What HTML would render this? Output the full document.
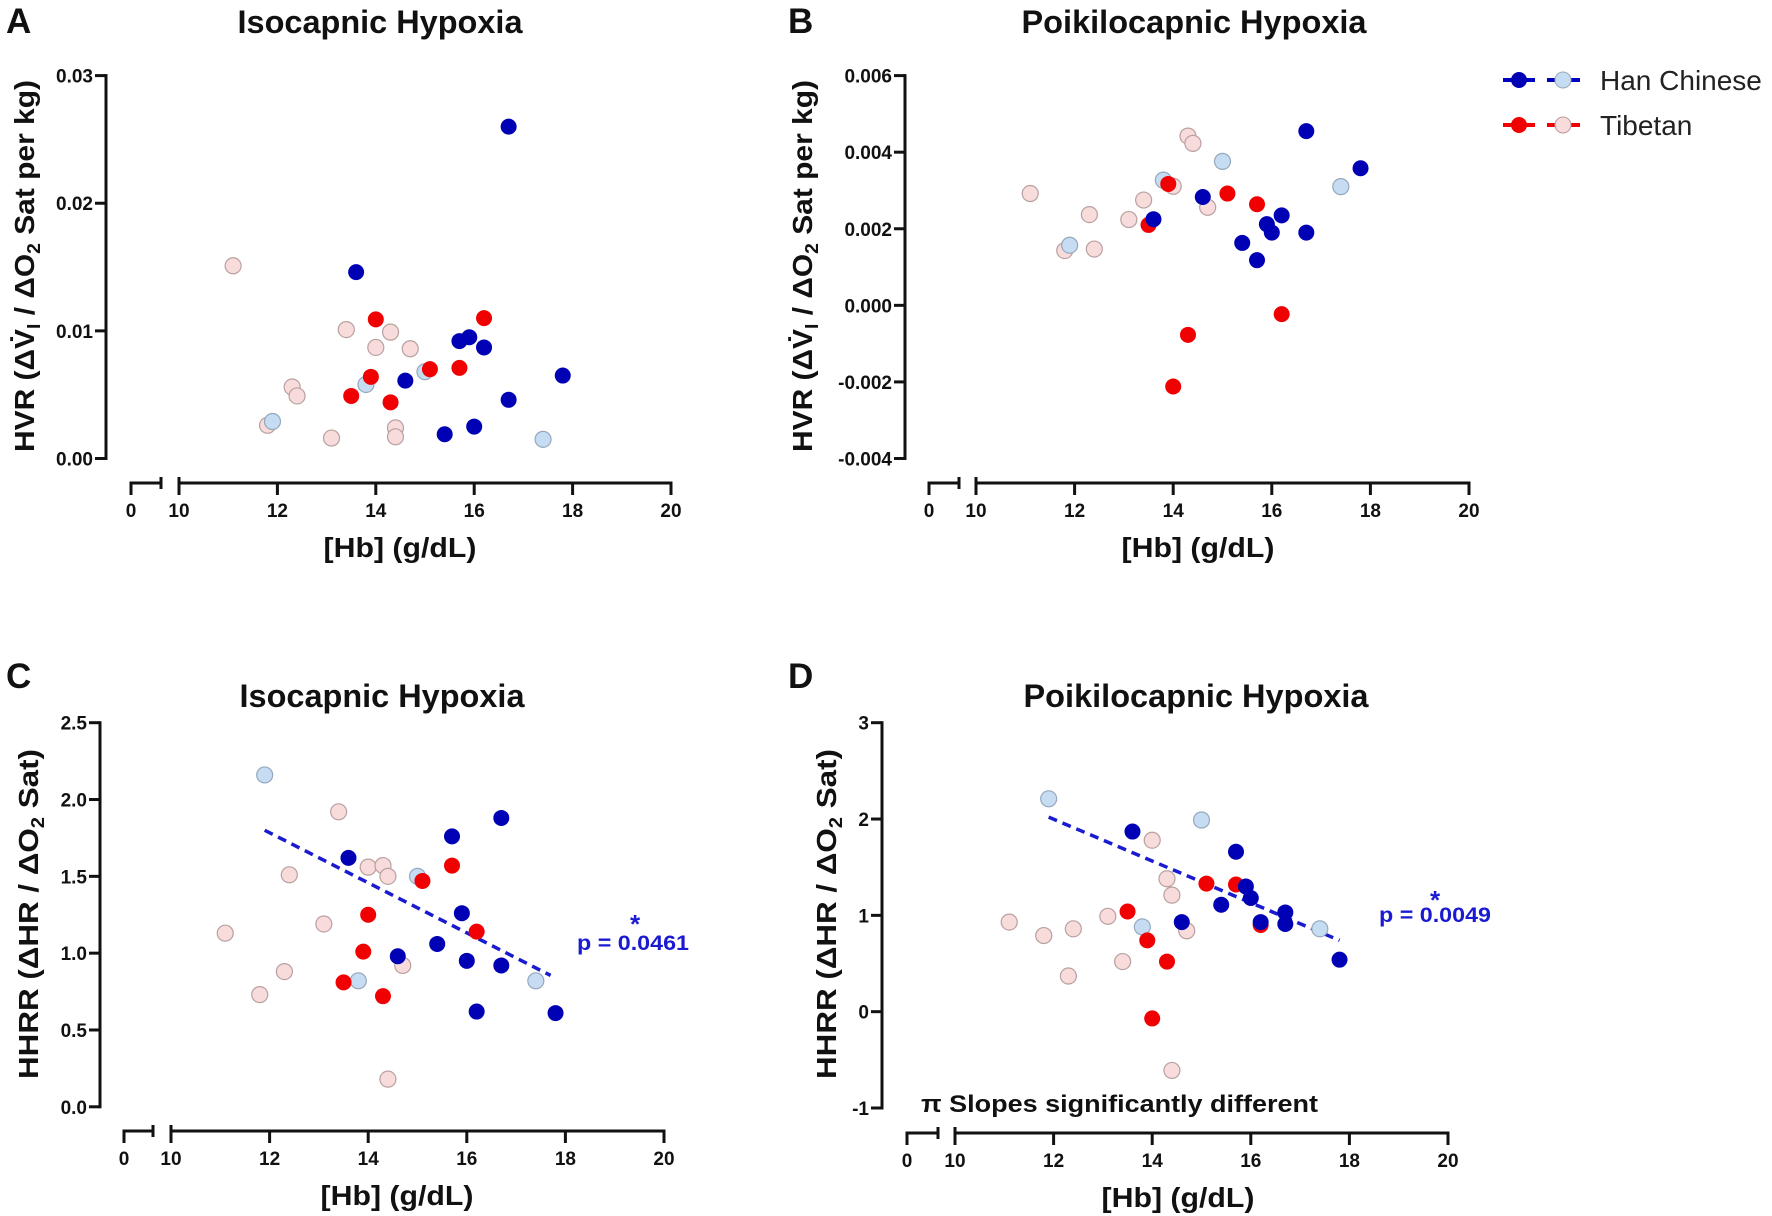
<!DOCTYPE html>
<html><head><meta charset="utf-8"><style>
html,body{margin:0;padding:0;background:#fff;}
svg{display:block;font-family:"Liberation Sans",Arial,sans-serif;}
.tk{font-family:"Liberation Sans Narrow","Liberation Sans",sans-serif;font-weight:bold;font-size:19px;fill:#111;}
.ttl{font-family:"Liberation Sans Narrow","Liberation Sans",sans-serif;font-weight:bold;font-size:32px;fill:#111;}
.ax{font-weight:bold;font-size:28px;fill:#111;}
.let{font-weight:bold;font-size:35px;fill:#111;}
</style></head><body>
<svg id="fig" width="1772" height="1216" viewBox="0 0 1772 1216">
<g>
<text class="let" x="6" y="33">A</text>
<text class="let" x="788" y="33">B</text>
<text class="let" x="6" y="688">C</text>
<text class="let" x="788" y="688">D</text>
</g>
<g>
<g>
<line x1="1503" y1="80" x2="1535" y2="80" stroke="#0000c0" stroke-width="4"/>
<line x1="1547" y1="80" x2="1580" y2="80" stroke="#0000c0" stroke-width="4"/>
<circle cx="1519" cy="80" r="8" fill="#0000b4"/>
<circle cx="1563" cy="80" r="8" fill="#c6dcf2" stroke="#9ab" stroke-width="1"/>
<text x="1600" y="90" font-size="28" fill="#222">Han Chinese</text>
</g>
<g>
<line x1="1503" y1="125" x2="1535" y2="125" stroke="#f00000" stroke-width="4"/>
<line x1="1547" y1="125" x2="1580" y2="125" stroke="#f00000" stroke-width="4"/>
<circle cx="1519" cy="125" r="8" fill="#f00000"/>
<circle cx="1563" cy="125" r="8" fill="#f8dcdc" stroke="#b99" stroke-width="1"/>
<text x="1600" y="135" font-size="28" fill="#222">Tibetan</text>
</g>
</g>
<text class="tk" x="921" y="1112" style="font-size:24px" textLength="397" lengthAdjust="spacingAndGlyphs">π Slopes significantly different</text>
</svg>
<script>
// Panel A data (HVR isocapnic)
const aHanDarkX=[16.7,13.6,15.7,15.9,16.2,14.6,17.8,16.7,15.4,16.0];
const aHanDarkY=[0.026,0.0146,0.0092,0.0095,0.0087,0.0061,0.0065,0.0046,0.0019,0.0025];
const aHanLightX=[11.9,13.8,15.0,17.4];
const aHanLightY=[0.0029,0.0058,0.0068,0.0015];
const aTibDarkX=[14.0,16.2,13.9,15.1,15.7,13.5,14.3];
const aTibDarkY=[0.0109,0.011,0.0064,0.007,0.0071,0.0049,0.0044];
const aTibLightX=[11.1,13.4,14.3,14.0,14.7,12.3,12.4,11.8,13.1,14.4,14.4];
const aTibLightY=[0.0151,0.0101,0.0099,0.0087,0.0086,0.0056,0.0049,0.0026,0.0016,0.0024,0.0017];
const aYTicks=[0,0.01,0.02,0.03];
const aYLabels=["0.00","0.01","0.02","0.03"];
// Panel B data (HVR poikilocapnic)
const bHanDarkX=[16.7,17.8,14.6,13.6,16.2,15.9,16.0,16.7,15.4,15.7];
const bHanDarkY=[0.00455,0.00358,0.00283,0.00225,0.00235,0.00212,0.0019,0.0019,0.00163,0.00118];
const bHanLightX=[15.0,13.8,17.4,11.9];
const bHanLightY=[0.00376,0.00327,0.0031,0.00157];
const bTibDarkX=[13.9,15.1,15.7,13.5,16.2,14.3,14.0];
const bTibDarkY=[0.00317,0.00292,0.00264,0.0021,-0.00023,-0.00077,-0.00212];
const bTibLightX=[14.3,14.4,14.0,11.1,13.4,14.7,12.3,13.1,12.4,11.8];
const bTibLightY=[0.00442,0.00423,0.00311,0.00292,0.00275,0.00256,0.00237,0.00224,0.00147,0.00143];
const bYTicks=[-0.004,-0.002,0,0.002,0.004,0.006];
const bYLabels=["-0.004","-0.002","0.000","0.002","0.004","0.006"];
// Panel C data (HHRR isocapnic)
const cHanDarkX=[16.7,15.7,13.6,15.9,15.4,14.6,16.0,16.7,16.2,17.8];
const cHanDarkY=[1.88,1.76,1.62,1.26,1.06,0.98,0.95,0.92,0.62,0.61];
const cHanLightX=[11.9,15.0,13.8,17.4];
const cHanLightY=[2.16,1.50,0.82,0.82];
const cTibDarkX=[15.7,15.1,14.0,16.2,13.9,13.5,14.3];
const cTibDarkY=[1.57,1.47,1.25,1.14,1.01,0.81,0.72];
const cTibLightX=[13.4,14.0,14.3,14.4,12.4,13.1,11.1,12.3,14.7,11.8,14.4];
const cTibLightY=[1.92,1.56,1.57,1.50,1.51,1.19,1.13,0.88,0.92,0.73,0.18];
const cTrendX=[11.9,17.7];
const cTrendY=[1.80,0.855];
const cYTicks=[0,0.5,1,1.5,2,2.5];
const cYLabels=["0.0","0.5","1.0","1.5","2.0","2.5"];
// Panel D data (HHRR poikilocapnic)
const dHanDarkX=[13.6,15.7,15.9,16.0,15.4,16.7,16.7,16.2,14.6,17.8];
const dHanDarkY=[1.87,1.66,1.30,1.18,1.11,1.03,0.91,0.93,0.93,0.54];
const dHanLightX=[11.9,15.0,13.8,17.4];
const dHanLightY=[2.21,1.99,0.88,0.86];
const dTibDarkX=[15.1,15.7,13.5,16.2,13.9,14.3,14.0];
const dTibDarkY=[1.33,1.32,1.04,0.90,0.74,0.52,-0.07];
const dTibLightX=[14.0,14.3,14.4,13.1,11.1,12.4,11.8,14.7,13.4,12.3,14.4];
const dTibLightY=[1.78,1.38,1.21,0.99,0.93,0.86,0.79,0.84,0.52,0.37,-0.61];
const dTrendX=[11.9,17.8];
const dTrendY=[2.02,0.74];
const dYTicks=[-1,0,1,2,3];
const dYLabels=["-1","0","1","2","3"];
const xTicks=[10,12,14,16,18,20];
const xLabels=["10","12","14","16","18","20"];

const NS="http://www.w3.org/2000/svg";
const svg=document.getElementById('fig');
function mk(tag,attrs,parent){const e=document.createElementNS(NS,tag);for(const k in attrs)e.setAttribute(k,attrs[k]);(parent||svg).appendChild(e);return e;}

function panel(p){
  const g=mk('g',{});
  
  
  const xs=v=>p.x10+(v-10)*(p.x20-p.x10)/10;
  const ys=v=>p.yB+(v-p.ymin)*(p.yT-p.yB)/(p.ymax-p.ymin);
  const t=mk('text',{class:'ttl',x:p.tcx,y:p.ty,'text-anchor':'middle',textLength:p.tlen,lengthAdjust:'spacingAndGlyphs'},g);
  t.textContent=p.title;
  
  
  const ya=mk('g',{},g);
  
  
  mk('line',{x1:p.ax,y1:ys(p.ymax)-1.5,x2:p.ax,y2:ys(p.ymin)+1.5,stroke:'#111','stroke-width':3},ya);
  p.yt.forEach((v,i)=>{
    mk('line',{x1:p.ax-11,y1:ys(v),x2:p.ax,y2:ys(v),stroke:'#111','stroke-width':3},ya);
    const l=mk('text',{class:'tk',x:p.ax-13,y:ys(v)+7,'text-anchor':'end'},ya);
    l.textContent=p.yl[i];
    
    
  });
  const yt=mk('text',{class:'ax',x:0,y:0,'text-anchor':'middle',transform:`translate(${p.ytx},${p.ytcy}) rotate(-90)`,textLength:p.ytlen,lengthAdjust:'spacingAndGlyphs'},g);
  yt.innerHTML=p.ytitle;
  
  
  const xa=mk('g',{},g);
  
  
  const ay=p.axy;
  mk('line',{x1:p.x0,y1:ay,x2:p.xb,y2:ay,stroke:'#111','stroke-width':3},xa);
  mk('line',{x1:p.x0,y1:ay-1.5,x2:p.x0,y2:ay+12,stroke:'#111','stroke-width':3},xa);
  mk('line',{x1:p.xb,y1:ay-6,x2:p.xb,y2:ay+6,stroke:'#111','stroke-width':3},xa);
  mk('line',{x1:xs(10),y1:ay,x2:xs(20),y2:ay,stroke:'#111','stroke-width':3},xa);
  mk('line',{x1:xs(10),y1:ay-6,x2:xs(10),y2:ay+12,stroke:'#111','stroke-width':3},xa);
  const l0=mk('text',{class:'tk',x:p.x0,y:ay+34,'text-anchor':'middle'},xa);
  l0.textContent='0';
  
  
  xTicks.forEach((v,i)=>{
    mk('line',{x1:xs(v),y1:ay-1.5,x2:xs(v),y2:ay+12,stroke:'#111','stroke-width':3},xa);
    const l=mk('text',{class:'tk',x:xs(v),y:ay+34,'text-anchor':'middle'},xa);
    l.textContent=xLabels[i];
    
    
  });
  const xt=mk('text',{class:'ax',x:p.xtcx,y:ay+74,'text-anchor':'middle',textLength:153,lengthAdjust:'spacingAndGlyphs'},g);
  xt.textContent='[Hb] (g/dL)';
  
  
  if(p.trX){
    const tl=mk('line',{x1:xs(p.trX[0]),y1:ys(p.trY[0]),x2:xs(p.trX[1]),y2:ys(p.trY[1]),stroke:'#1a1ad0','stroke-width':3.5,'stroke-dasharray':'9 6'},g);
    
    
    const pt=mk('text',{x:p.px,y:p.py,'font-size':21,'font-weight':'bold',fill:'#1a1ad0',textLength:112,lengthAdjust:'spacingAndGlyphs'},g);
    pt.textContent=p.ptext;
    
    
    const st=mk('text',{x:p.sx,y:p.sy,'font-size':26,'font-weight':'bold',fill:'#1a1ad0','text-anchor':'middle'},g);
    st.textContent='*';
    
    
  }
  const series=[
    [p.tlX,p.tlY,'#f8dcdc','#b9a0a0','tibetan-light'],
    [p.hlX,p.hlY,'#c6dcf2','#95a8bd','han-light'],
    [p.tdX,p.tdY,'#f00000','none','tibetan-dark'],
    [p.hdX,p.hdY,'#0000b4','none','han-dark']];
  series.forEach(s=>{
    const sg=mk('g',{},g);
    
    
    s[0].forEach((xv,i)=>{
      const c=mk('circle',{cx:xs(xv),cy:ys(s[1][i]),r:8,fill:s[2],stroke:s[3],'stroke-width':1.2},sg);
      
      
    });
  });
}
const hvr='HVR (ΔV̇<tspan font-size="18" dy="6">I</tspan><tspan dy="-6"> / ΔO</tspan><tspan font-size="18" dy="6">2</tspan><tspan dy="-6"> Sat per kg)</tspan>';
const hhrr='HHRR (ΔHR / ΔO<tspan font-size="18" dy="6">2</tspan><tspan dy="-6"> Sat)</tspan>';
panel({name:'panel-a-isocapnic-hvr',title:'Isocapnic Hypoxia',tcx:380,ty:33,tlen:285,ax:106,x0:131,xb:161,x10:179,x20:671,yT:75.6,yB:458.5,ymin:0,ymax:0.03,axy:483,xtcx:400,yt:aYTicks,yl:aYLabels,ytitle:hvr,ytx:34,ytcy:266,ytlen:372,
  hdX:aHanDarkX,hdY:aHanDarkY,hlX:aHanLightX,hlY:aHanLightY,tdX:aTibDarkX,tdY:aTibDarkY,tlX:aTibLightX,tlY:aTibLightY});
panel({name:'panel-b-poikilocapnic-hvr',title:'Poikilocapnic Hypoxia',tcx:1194,ty:33,tlen:345,ax:905,x0:929,xb:959,x10:976,x20:1469,yT:75.6,yB:458.5,ymin:-0.004,ymax:0.006,axy:483,xtcx:1198,yt:bYTicks,yl:bYLabels,ytitle:hvr,ytx:812,ytcy:266,ytlen:372,
  hdX:bHanDarkX,hdY:bHanDarkY,hlX:bHanLightX,hlY:bHanLightY,tdX:bTibDarkX,tdY:bTibDarkY,tlX:bTibLightX,tlY:bTibLightY});
panel({name:'panel-c-isocapnic-hhrr',title:'Isocapnic Hypoxia',tcx:382,ty:707,tlen:285,ax:100,x0:124,xb:153,x10:171,x20:664,yT:722.7,yB:1106.8,ymin:0,ymax:2.5,axy:1131,xtcx:397,yt:cYTicks,yl:cYLabels,ytitle:hhrr,ytx:38,ytcy:914,ytlen:330,
  hdX:cHanDarkX,hdY:cHanDarkY,hlX:cHanLightX,hlY:cHanLightY,tdX:cTibDarkX,tdY:cTibDarkY,tlX:cTibLightX,tlY:cTibLightY,
  trX:cTrendX,trY:cTrendY,ptext:'p = 0.0461',px:577,py:950,sx:635,sy:933});
panel({name:'panel-d-poikilocapnic-hhrr',title:'Poikilocapnic Hypoxia',tcx:1196,ty:707,tlen:345,ax:882,x0:907,xb:938,x10:955,x20:1448,yT:722.7,yB:1108,ymin:-1,ymax:3,axy:1133,xtcx:1178,yt:dYTicks,yl:dYLabels,ytitle:hhrr,ytx:836,ytcy:914,ytlen:330,
  hdX:dHanDarkX,hdY:dHanDarkY,hlX:dHanLightX,hlY:dHanLightY,tdX:dTibDarkX,tdY:dTibDarkY,tlX:dTibLightX,tlY:dTibLightY,
  trX:dTrendX,trY:dTrendY,ptext:'p = 0.0049',px:1379,py:922,sx:1435,sy:909});
</script>
</body></html>
